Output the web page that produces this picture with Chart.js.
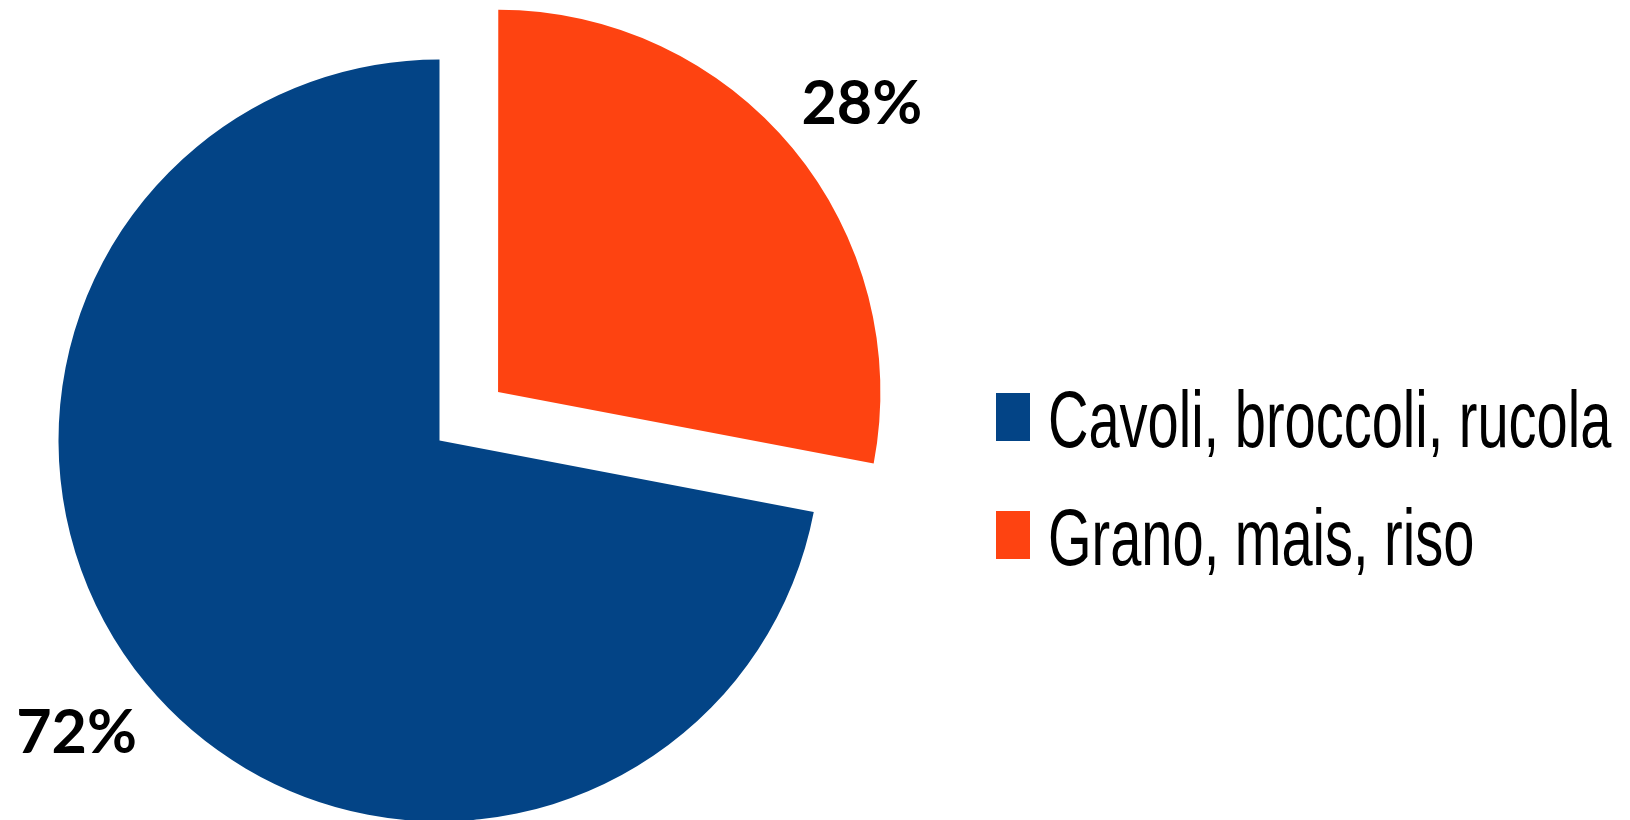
<!DOCTYPE html>
<html lang="it">
<head>
<meta charset="utf-8">
<title>Colture</title>
<script src="https://cdn.jsdelivr.net/npm/chart.js@4/dist/chart.umd.min.js"></script>
<style>
  html, body { margin: 0; padding: 0; background: #fff; overflow: hidden; }
  #wrap { position: relative; width: 1630px; height: 820px; }
</style>
</head>
<body>
<div id="wrap"><canvas id="cropChart"></canvas></div>
<script>
// Dati del grafico
const labels = ['Cavoli, broccoli, rucola', 'Grano, mais, riso'];
const values = [72, 28];
const colors = ['#034486', '#FE4311'];
const explode = [0, 304]; // spostamento della fetta (Chart.js lo divide per 4)

const total = values.reduce((a, b) => a + b, 0);

// Percentuali in grassetto fuori dalla torta
const pctLabels = {
    id: 'pctLabels',
    afterDatasetsDraw(chart) {
        const ctx = chart.ctx;
        const meta = chart.getDatasetMeta(0);
        ctx.save();
        ctx.font = 'bold 61px Lato, "DejaVu Sans", sans-serif';
        ctx.fillStyle = '#000';
        ctx.textAlign = 'center';
        ctx.textBaseline = 'alphabetic';
        meta.data.forEach((arc, i) => {
            // leggermente ruotato in senso orario rispetto alla bisettrice
            const mid = (arc.startAngle + arc.endAngle) / 2 + 0.016;
            const shift = (arc.options.offset || 0) / 4;
            const r = arc.outerRadius + shift + 84;
            const x = arc.x + Math.cos(mid) * r;
            const y = arc.y + Math.sin(mid) * r;
            ctx.fillText(Math.round(values[i] / total * 100) + '%', x, y + 22);
        });
        ctx.restore();
    }
};

// Legenda a destra, testo stretto
const sideLegend = {
    id: 'sideLegend',
    afterDraw(chart) {
        const ctx = chart.ctx;
        const ds = chart.data.datasets[0];
        ctx.save();
        chart.data.labels.forEach((label, i) => {
            const base = 447 + i * 118;
            ctx.fillStyle = ds.backgroundColor[i];
            ctx.fillRect(996, base - 54, 34, 48);
            ctx.save();
            ctx.translate(1048, base);
            ctx.scale(0.7, 1);
            ctx.fillStyle = '#000';
            ctx.font = '80px "Liberation Sans", Arial, sans-serif';
            ctx.textBaseline = 'alphabetic';
            ctx.fillText(label, 0, 0);
            ctx.restore();
        });
        ctx.restore();
    }
};

const ctx = document.getElementById('cropChart').getContext('2d');
const cropChart = new Chart(ctx, {
    type: 'pie',
    data: {
        labels: labels,
        datasets: [{
            data: values,
            backgroundColor: colors,
            borderWidth: 0,
            offset: explode
        }]
    },
    options: {
        responsive: true,
        maintainAspectRatio: false,
        animation: false,
        events: [],
        radius: 381,
        rotation: values[1] / total * 360,
        layout: {
            padding: { left: 0, right: 751, top: 61, bottom: 0 }
        },
        plugins: {
            legend: { display: false },
            tooltip: { enabled: false }
        }
    },
    plugins: [pctLabels, sideLegend]
});
</script>
</body>
</html>
